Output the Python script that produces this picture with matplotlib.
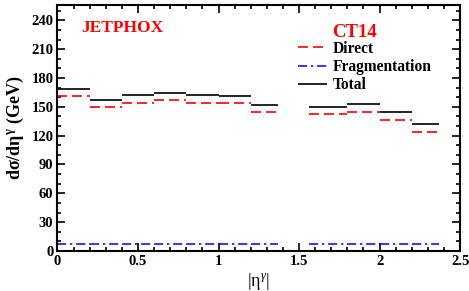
import matplotlib.pyplot as plt
from matplotlib.ticker import MultipleLocator

plt.rcParams['font.family'] = ['Liberation Serif', 'DejaVu Serif']
plt.rcParams['mathtext.fontset'] = 'custom'
plt.rcParams['mathtext.rm'] = 'Liberation Serif'
plt.rcParams['mathtext.it'] = 'Liberation Serif:italic'
plt.rcParams['mathtext.bf'] = 'Liberation Serif:bold'

# |eta| bins (crack region 1.37-1.56 excluded)
bin_lo = [0.0, 0.2, 0.4, 0.6, 0.8, 1.0, 1.2, 1.56, 1.8, 2.0, 2.2]
bin_hi = [0.2, 0.4, 0.6, 0.8, 1.0, 1.2, 1.37, 1.8, 2.0, 2.2, 2.37]

direct = [161, 149.5, 154, 157, 154, 153.5, 144.5, 142.5, 145, 136.5, 124]
fragmentation = [7.5, 7.5, 7.2, 7.3, 7.5, 7.5, 7.5, 7.3, 7.3, 7.3, 7.2]
total = [169, 157, 162, 164, 162, 161, 152, 149.5, 152.5, 144.5, 132]

fig = plt.figure(figsize=(4.69, 2.91), dpi=100)
ax = fig.add_axes([0.1226, 0.1375, 0.8584, 0.8455])

ax.hlines(direct, bin_lo, bin_hi, colors='red', linestyles=(0, (6, 3)), lw=1.2, label='Direct')
ax.hlines(fragmentation, bin_lo, bin_hi, colors='blue', linestyles=(0, (6, 2.5, 1.5, 2.5)), lw=1.1, label='Fragmentation')
ax.hlines(total, bin_lo, bin_hi, colors='black', linestyles='solid', lw=1.2, label='Total')

ax.set_xlim(0, 2.5)
ax.set_ylim(0, 256)
ax.xaxis.set_major_locator(MultipleLocator(0.5))
ax.xaxis.set_minor_locator(MultipleLocator(0.1))
ax.yaxis.set_major_locator(MultipleLocator(30))
ax.yaxis.set_minor_locator(MultipleLocator(10))
ax.set_xticks([0, 0.5, 1, 1.5, 2, 2.5])
ax.set_xticklabels(['0', '0.5', '1', '1.5', '2', '2.5'])
ax.tick_params(which='both', direction='in', top=True, right=True, width=1.2)
ax.tick_params(which='major', length=6, labelsize=10.5, pad=3)
ax.tick_params(which='minor', length=3)
for lab in ax.get_xticklabels() + ax.get_yticklabels():
    lab.set_fontweight('bold')
for sp in ax.spines.values():
    sp.set_linewidth(1.5)

ax.set_xlabel(r'$|\mathrm{\eta}^{\gamma}|$', fontsize=13, labelpad=2)
ax.set_ylabel(r'$\mathbf{d\sigma/d\eta^{\gamma}}$ (GeV)', fontsize=13, fontweight='bold', labelpad=4)

ax.text(0.058, 0.905, 'JETPHOX', transform=ax.transAxes, color='red',
        fontsize=12.5, fontweight='bold', va='center')
ax.text(0.682, 0.89, 'CT14', transform=ax.transAxes, color='red',
        fontsize=13.5, fontweight='bold', va='center')

leg = ax.legend(loc='upper left', bbox_to_anchor=(0.597, 0.855), frameon=False,
                fontsize=11.2, handlelength=1.85, handletextpad=0.4,
                labelspacing=0.15, borderaxespad=0, borderpad=0)
for t in leg.get_texts():
    t.set_fontweight('bold')

fig.savefig('out.png', dpi=100)
